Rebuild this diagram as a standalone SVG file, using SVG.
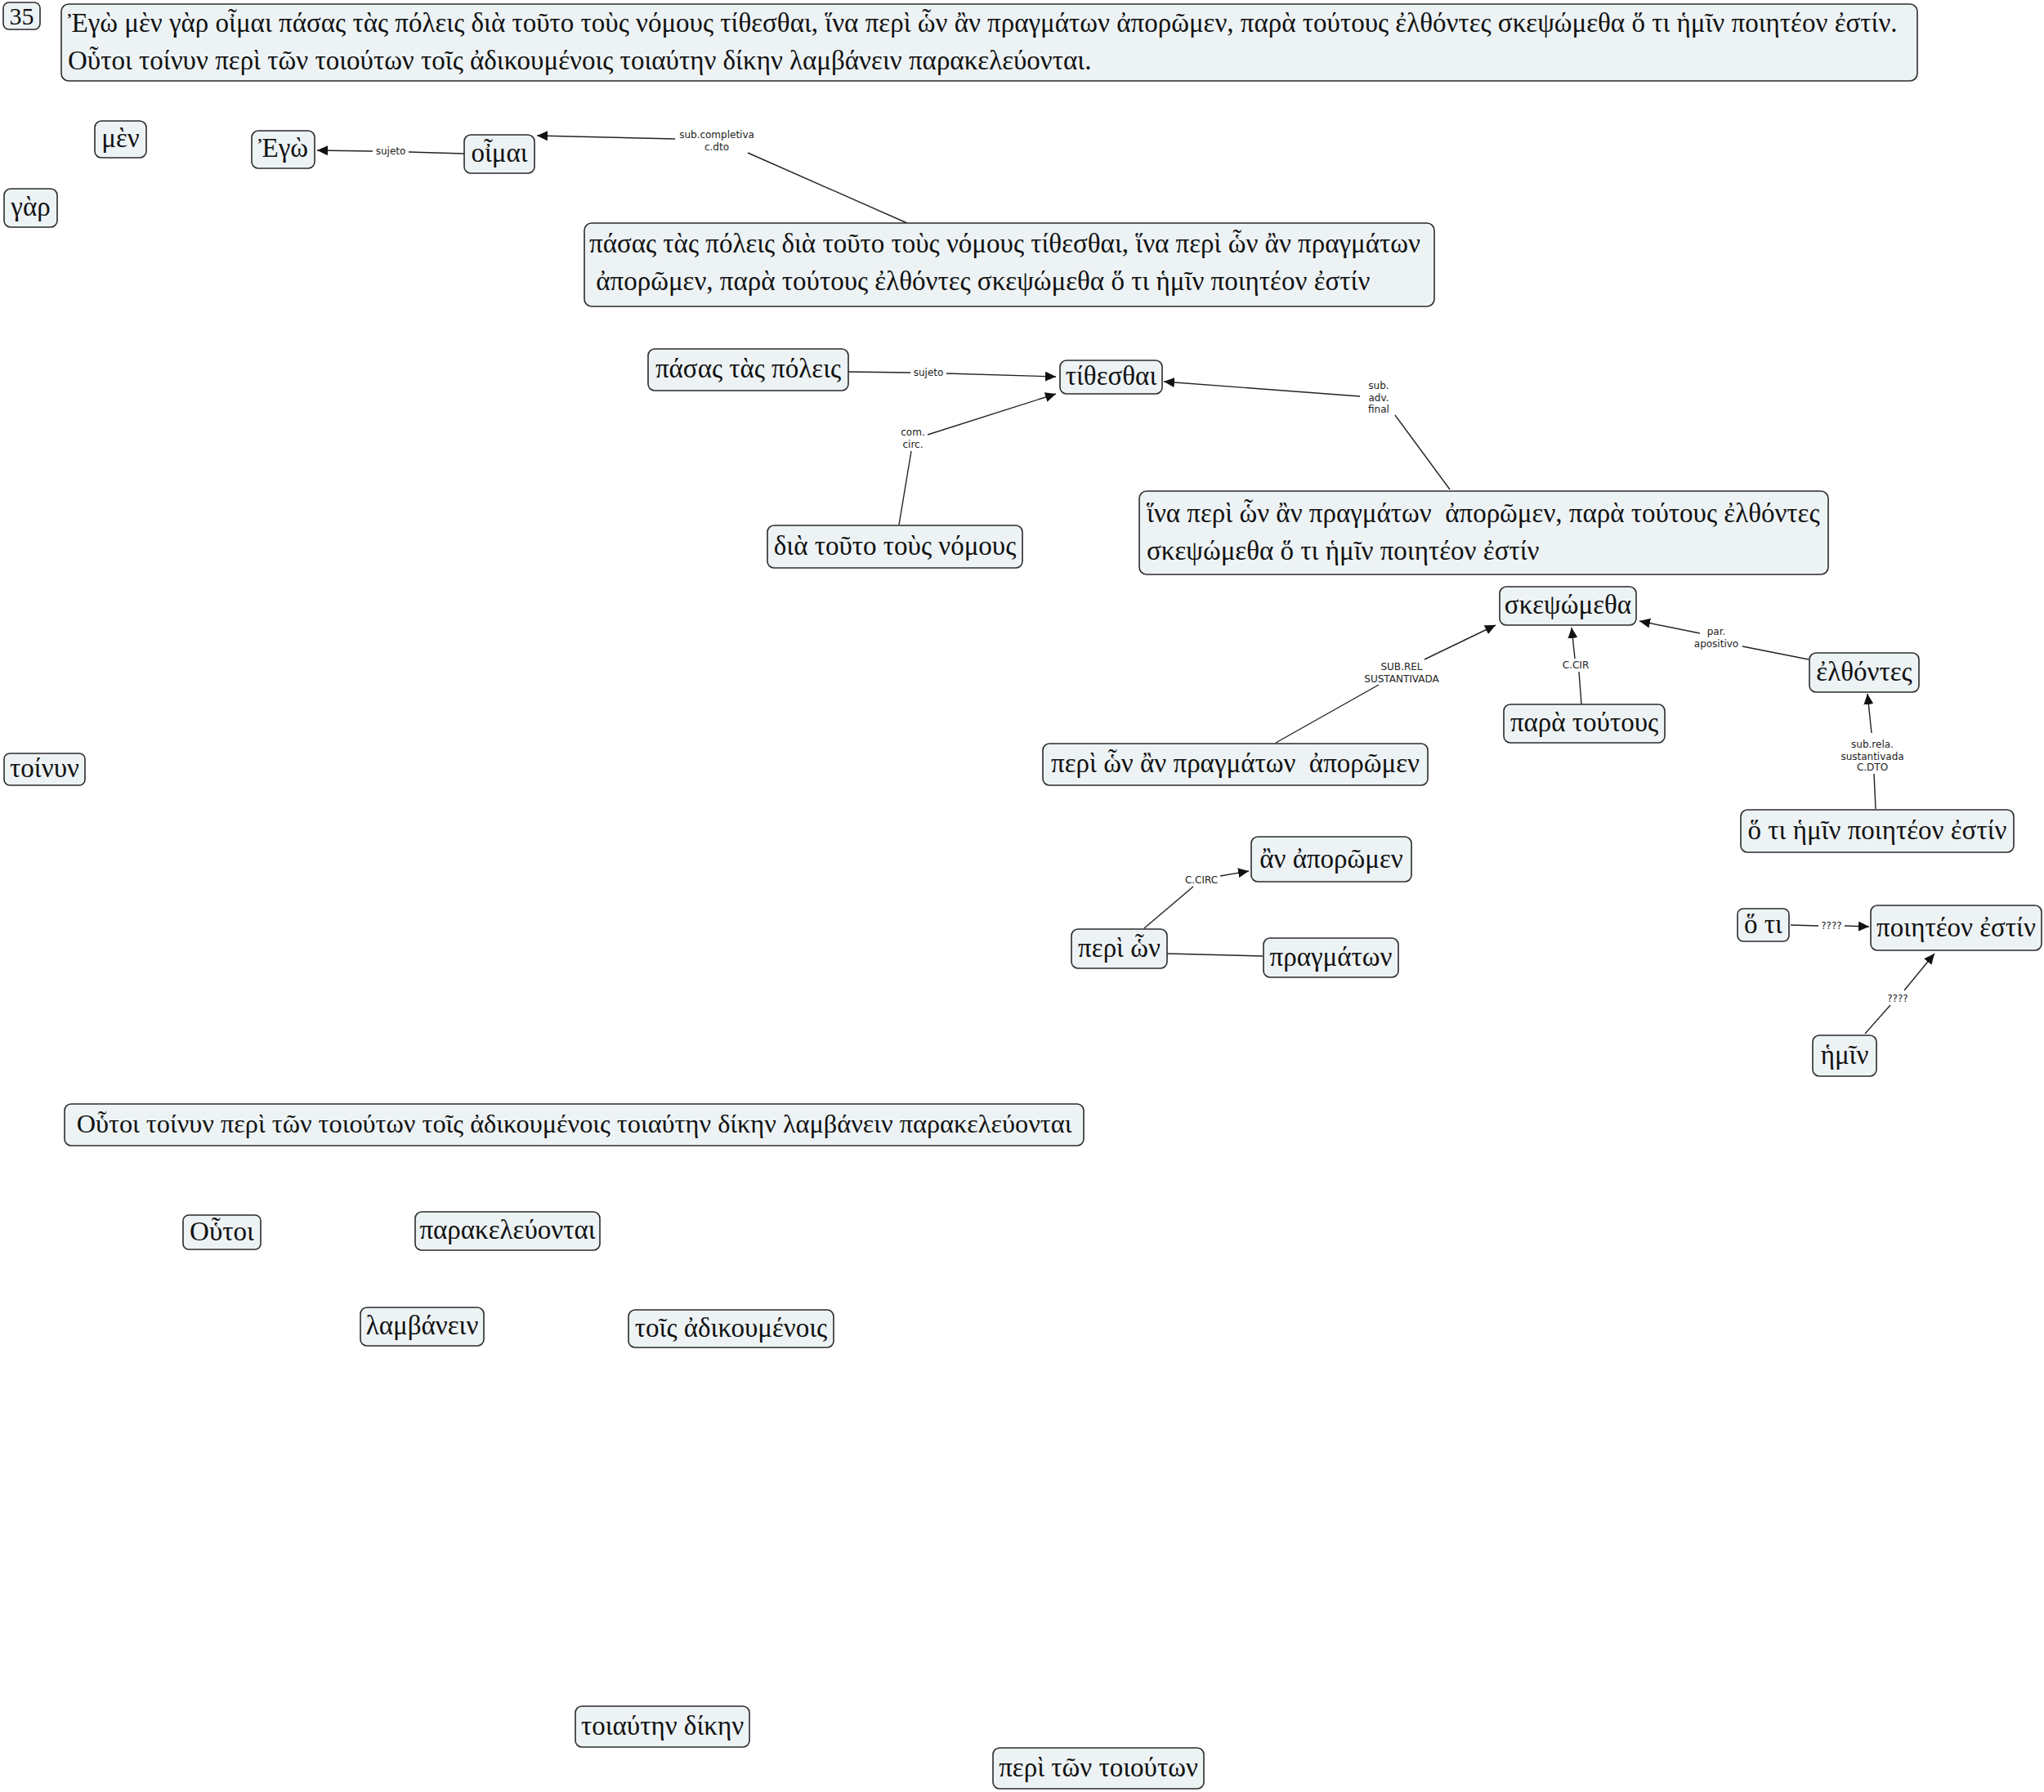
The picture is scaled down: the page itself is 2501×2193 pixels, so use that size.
<svg xmlns="http://www.w3.org/2000/svg" width="2501" height="2193" viewBox="0 0 2501 2193">
<style>
.n rect{fill:#edf3f5;stroke:#2b2b2b;stroke-width:1.6}
.n text{font-family:"Liberation Serif","DejaVu Serif",serif;font-size:33px;fill:#111;white-space:pre}
.c{text-anchor:middle}
.e path{fill:none;stroke:#222;stroke-width:1.4}
.e text{font-family:"DejaVu Sans","Liberation Sans",sans-serif;font-size:12px;fill:#222;text-anchor:middle}
</style>
<defs>
<marker id="ah" markerUnits="userSpaceOnUse" markerWidth="14" markerHeight="12" refX="13" refY="6" orient="auto">
<path d="M0,0 L13,6 L0,12 z" fill="#111"/>
</marker>
</defs>
<rect width="2501" height="2193" fill="#fff"/>

<g class="e" id="connectors">
<path d="M568,188 L500,186"/><path d="M456,185 L388,184" marker-end="url(#ah)"/>
<text x="478" y="189">sujeto</text>

<path d="M1110,273 L915,187"/><path d="M826,170 L657,166" marker-end="url(#ah)"/>
<text x="877" y="169">sub.completiva</text><text x="877" y="184">c.dto</text>

<path d="M1038,455 L1114,456"/><path d="M1158,457 L1292,461" marker-end="url(#ah)"/>
<text x="1136" y="460">sujeto</text>

<path d="M1100,642 L1115,552"/><path d="M1135,532 L1292,482" marker-end="url(#ah)"/>
<text x="1117" y="533">com.</text><text x="1117" y="548">circ.</text>

<path d="M1774,599 L1707,508"/><path d="M1664,485 L1424,467" marker-end="url(#ah)"/>
<text x="1687" y="476">sub.</text><text x="1687" y="491">adv.</text><text x="1687" y="505">final</text>

<path d="M1561,909 L1687,838"/><path d="M1743,807 L1830,765" marker-end="url(#ah)"/>
<text x="1715" y="820">SUB.REL</text><text x="1715" y="835">SUSTANTIVADA</text>

<path d="M1935,862 L1932,822"/><path d="M1927,806 L1923,768" marker-end="url(#ah)"/>
<text x="1928" y="818">C.CIR</text>

<path d="M2213,807 L2132,791"/><path d="M2080,775 L2006,760" marker-end="url(#ah)"/>
<text x="2100" y="777">par.</text><text x="2100" y="792">apositivo</text>

<path d="M2295,990 L2293,947"/><path d="M2290,897 L2285,849" marker-end="url(#ah)"/>
<text x="2291" y="915">sub.rela.</text><text x="2291" y="930">sustantivada</text><text x="2291" y="943">C.DTO</text>

<path d="M1400,1136 L1460,1085"/><path d="M1493,1072 L1528,1066" marker-end="url(#ah)"/>
<text x="1470" y="1081">C.CIRC</text>

<path d="M1428,1167 L1545,1170"/>

<path d="M2191,1132 L2225,1133"/><path d="M2257,1133 L2287,1134" marker-end="url(#ah)"/>
<text x="2241" y="1137">????</text>

<path d="M2282,1265 L2313,1230"/><path d="M2330,1212 L2367,1167" marker-end="url(#ah)"/>
<text x="2322" y="1226">????</text>
</g>

<g class="n" id="n35"><rect x="4" y="3" width="45" height="33" rx="7"/><text class="c" x="26.5" y="30" style="font-size:30px">35</text></g>
<g class="n" id="main"><rect x="75" y="5" width="2271" height="94" rx="9"/>
<text x="83" y="39">Ἐγὼ μὲν γὰρ οἶμαι πάσας τὰς πόλεις διὰ τοῦτο τοὺς νόμους τίθεσθαι, ἵνα περὶ ὧν ἂν πραγμάτων ἀπορῶμεν, παρὰ τούτους ἐλθόντες σκεψώμεθα ὅ τι ἡμῖν ποιητέον ἐστίν.</text>
<text x="83" y="85">Οὗτοι τοίνυν περὶ τῶν τοιούτων τοῖς ἀδικουμένοις τοιαύτην δίκην λαμβάνειν παρακελεύονται.</text></g>
<g class="n" id="men"><rect x="116" y="148" width="63" height="45" rx="8"/><text class="c" x="147.5" y="180">μὲν</text></g>
<g class="n" id="gar"><rect x="5" y="231" width="65" height="47" rx="8"/><text class="c" x="37.5" y="264">γὰρ</text></g>
<g class="n" id="ego"><rect x="308" y="160" width="77" height="46" rx="8"/><text class="c" x="346.5" y="192">Ἐγὼ</text></g>
<g class="n" id="oimai"><rect x="568" y="165" width="86" height="47" rx="8"/><text class="c" x="611" y="198">οἶμαι</text></g>
<g class="n" id="big1"><rect x="715" y="273" width="1040" height="102" rx="9"/>
<text x="721" y="309">πάσας τὰς πόλεις διὰ τοῦτο τοὺς νόμους τίθεσθαι, ἵνα περὶ ὧν ἂν πραγμάτων</text>
<text x="721" y="355"> ἀπορῶμεν, παρὰ τούτους ἐλθόντες σκεψώμεθα ὅ τι ἡμῖν ποιητέον ἐστίν</text></g>
<g class="n" id="pasas"><rect x="793" y="427" width="245" height="51" rx="8"/><text class="c" x="915.5" y="462">πάσας τὰς πόλεις</text></g>
<g class="n" id="tithesthai"><rect x="1297" y="441" width="125" height="41" rx="8"/><text class="c" x="1359.5" y="471">τίθεσθαι</text></g>
<g class="n" id="dia"><rect x="939" y="643" width="312" height="52" rx="8"/><text class="c" x="1095" y="679">διὰ τοῦτο τοὺς νόμους</text></g>
<g class="n" id="hina"><rect x="1394" y="601" width="843" height="102" rx="9"/>
<text x="1403" y="639">ἵνα περὶ ὧν ἂν πραγμάτων  ἀπορῶμεν, παρὰ τούτους ἐλθόντες</text>
<text x="1403" y="685">σκεψώμεθα ὅ τι ἡμῖν ποιητέον ἐστίν</text></g>
<g class="n" id="skeps"><rect x="1835" y="718" width="167" height="47" rx="8"/><text class="c" x="1918.5" y="751">σκεψώμεθα</text></g>
<g class="n" id="para"><rect x="1840" y="862" width="197" height="47" rx="8"/><text class="c" x="1938.5" y="895">παρὰ τούτους</text></g>
<g class="n" id="elth"><rect x="2214" y="799" width="134" height="48" rx="8"/><text class="c" x="2281" y="833">ἐλθόντες</text></g>
<g class="n" id="perilong"><rect x="1276" y="910" width="471" height="51" rx="8"/><text class="c" x="1511.5" y="945">περὶ ὧν ἂν πραγμάτων  ἀπορῶμεν</text></g>
<g class="n" id="hotilong"><rect x="2130" y="991" width="334" height="52" rx="8"/><text class="c" x="2297" y="1027">ὅ τι ἡμῖν ποιητέον ἐστίν</text></g>
<g class="n" id="anapor"><rect x="1531" y="1024" width="196" height="55" rx="8"/><text class="c" x="1629" y="1062">ἂν ἀπορῶμεν</text></g>
<g class="n" id="perion"><rect x="1311" y="1137" width="117" height="48" rx="8"/><text class="c" x="1369.5" y="1171">περὶ ὧν</text></g>
<g class="n" id="pragm"><rect x="1546" y="1148" width="165" height="48" rx="8"/><text class="c" x="1628.5" y="1182">πραγμάτων</text></g>
<g class="n" id="hoti"><rect x="2126" y="1112" width="63" height="40" rx="7"/><text class="c" x="2157.5" y="1142">ὅ τι</text></g>
<g class="n" id="poiet"><rect x="2289" y="1108" width="209" height="55" rx="8"/><text class="c" x="2393.5" y="1146">ποιητέον ἐστίν</text></g>
<g class="n" id="hemin"><rect x="2218" y="1267" width="78" height="50" rx="8"/><text class="c" x="2257" y="1302">ἡμῖν</text></g>
<g class="n" id="toinyn"><rect x="5" y="922" width="99" height="39" rx="7"/><text class="c" x="54.5" y="951">τοίνυν</text></g>
<g class="n" id="houtoilong"><rect x="79" y="1351" width="1247" height="51" rx="8"/><text class="c" x="702.5" y="1386" style="font-size:32.3px">Οὗτοι τοίνυν περὶ τῶν τοιούτων τοῖς ἀδικουμένοις τοιαύτην δίκην λαμβάνειν παρακελεύονται</text></g>
<g class="n" id="houtoi"><rect x="224" y="1487" width="95" height="42" rx="7"/><text class="c" x="271.5" y="1518">Οὗτοι</text></g>
<g class="n" id="parakel"><rect x="508" y="1483" width="226" height="47" rx="8"/><text class="c" x="621" y="1516">παρακελεύονται</text></g>
<g class="n" id="lamb"><rect x="441" y="1600" width="151" height="47" rx="8"/><text class="c" x="516.5" y="1633">λαμβάνειν</text></g>
<g class="n" id="tois"><rect x="769" y="1603" width="251" height="46" rx="8"/><text class="c" x="894.5" y="1636">τοῖς ἀδικουμένοις</text></g>
<g class="n" id="toiauten"><rect x="704" y="2088" width="213" height="50" rx="8"/><text class="c" x="810.5" y="2123">τοιαύτην δίκην</text></g>
<g class="n" id="periton"><rect x="1215" y="2139" width="258" height="50" rx="8"/><text class="c" x="1344" y="2174">περὶ τῶν τοιούτων</text></g>
</svg>
